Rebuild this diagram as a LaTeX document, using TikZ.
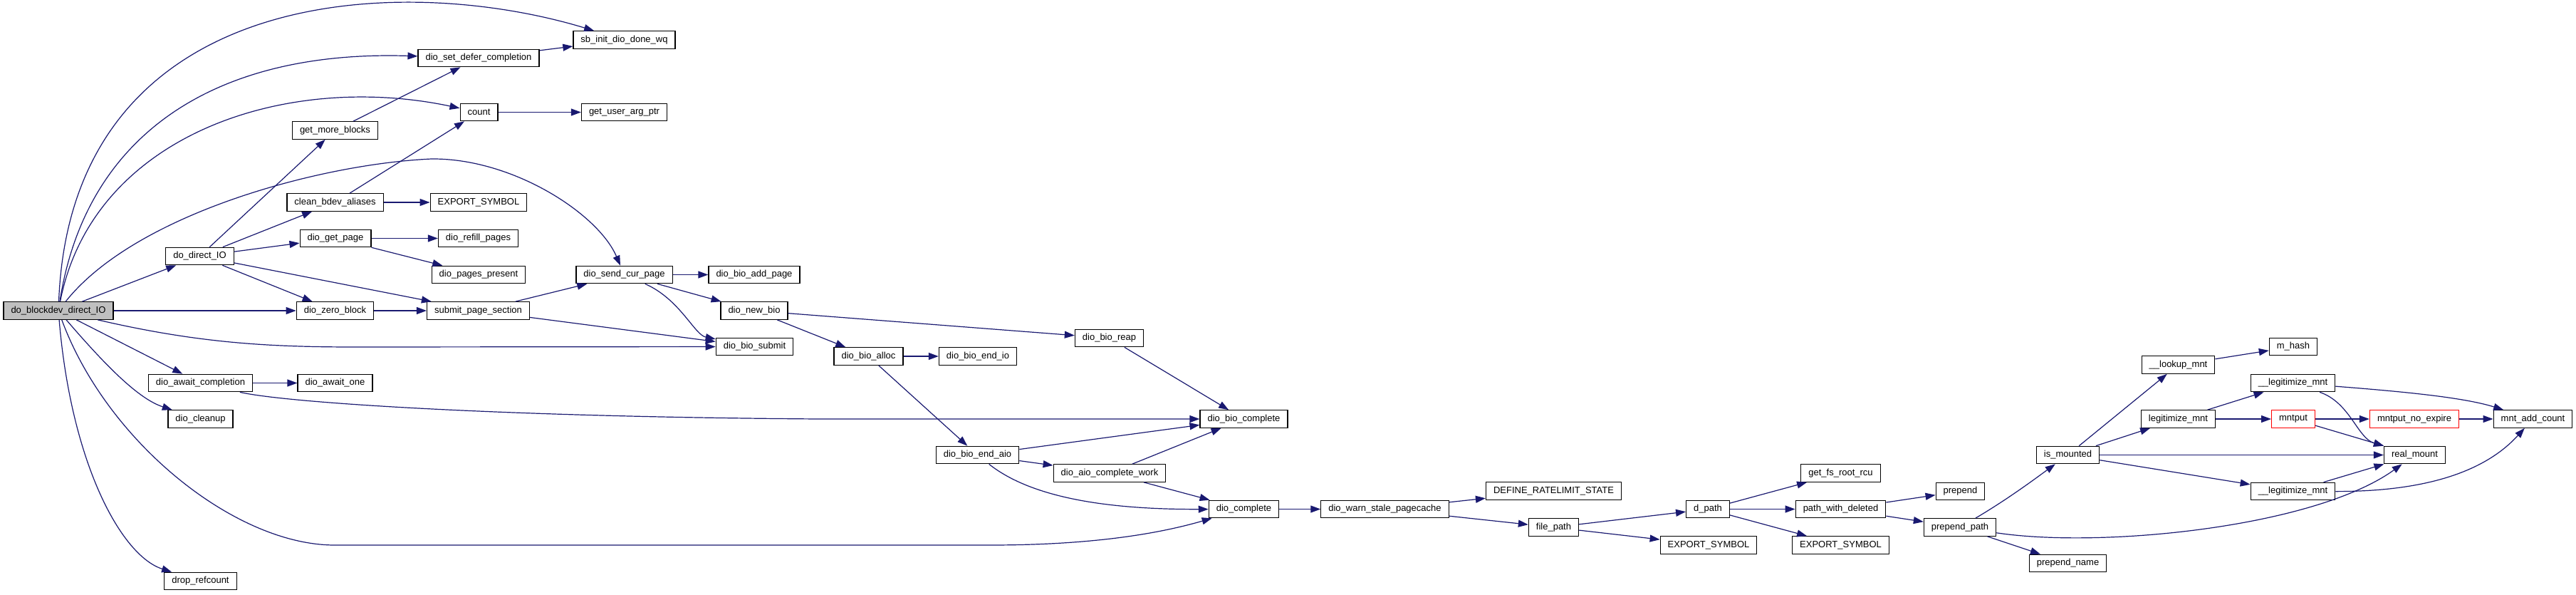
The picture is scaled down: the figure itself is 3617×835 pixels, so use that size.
\documentclass[tikz,border=0pt]{standalone}
\usepackage{fontspec}
\setmainfont{Liberation Sans}
\usepackage{xcolor}
\usetikzlibrary{arrows.meta}
\definecolor{edgeblue}{RGB}{25,25,112}
\definecolor{rootgray}{RGB}{191,191,191}

\begin{document}
\begin{tikzpicture}[
    x=1pt, y=-1pt,
    fn/.style={rectangle, draw=black, line width=1.2pt, fill=white, inner xsep=10.5pt, inner ysep=0pt, minimum height=24.5pt, font=\fontsize{13}{15}\selectfont},
    root/.style={fn, fill=rootgray},
    warn/.style={fn, draw=red},
    arrow/.style={-{Triangle[length=14pt,width=10pt]}, line width=1.2pt, draw=edgeblue}
]
\useasboundingbox (0,0) rectangle (3617,835);

\node[root] (blockdev) at (82,436) {do\_blockdev\_direct\_IO};
\node[fn] (directio) at (280.5,359.5) {do\_direct\_IO};
\node[fn] (awaitcompl) at (281.5,537.5) {dio\_await\_completion};
\node[fn] (cleanup) at (281.5,588) {dio\_cleanup};
\node[fn] (droprc) at (281.5,815.5) {drop\_refcount};
\node[fn] (moreblocks) at (470.5,183) {get\_more\_blocks};
\node[fn] (cleanbdev) at (470.5,284) {clean\_bdev\_aliases};
\node[fn] (getpage) at (471,334.5) {dio\_get\_page};
\node[fn] (zeroblock) at (470.5,436) {dio\_zero\_block};
\node[fn] (awaitone) at (470.5,537.5) {dio\_await\_one};
\node[fn] (deferc) at (672,81.5) {dio\_set\_defer\_completion};
\node[fn] (count) at (672.5,157.5) {count};
\node[fn] (exportA) at (672,284) {EXPORT\_SYMBOL};
\node[fn] (refill) at (671.5,334.5) {dio\_refill\_pages};
\node[fn] (present) at (672,385.5) {dio\_pages\_present};
\node[fn] (submitps) at (671.5,436) {submit\_page\_section};
\node[fn] (sbinit) at (876.5,56) {sb\_init\_dio\_done\_wq};
\node[fn] (userarg) at (876.5,157.5) {get\_user\_arg\_ptr};
\node[fn] (sendcur) at (876.5,385.5) {dio\_send\_cur\_page};
\node[fn] (addpage) at (1059,385.5) {dio\_bio\_add\_page};
\node[fn] (newbio) at (1059,436) {dio\_new\_bio};
\node[fn] (biosubmit) at (1059.5,486.5) {dio\_bio\_submit};
\node[fn] (bioalloc) at (1219.5,500) {dio\_bio\_alloc};
\node[fn] (bioendio) at (1373,500) {dio\_bio\_end\_io};
\node[fn] (bioreap) at (1557.5,474.5) {dio\_bio\_reap};
\node[fn] (bioendaio) at (1372.5,638.5) {dio\_bio\_end\_aio};
\node[fn] (aiowork) at (1558,664) {dio\_aio\_complete\_work};
\node[fn] (biocompl) at (1746.5,588) {dio\_bio\_complete};
\node[fn] (complete) at (1746.5,714.5) {dio\_complete};
\node[fn] (warnstale) at (1944.5,714.5) {dio\_warn\_stale\_pagecache};
\node[fn] (ratelimit) at (2181.5,689) {DEFINE\_RATELIMIT\_STATE};
\node[fn] (filepath) at (2181.5,740) {file\_path};
\node[fn] (dpath) at (2398,714.5) {d\_path};
\node[fn] (exportB) at (2399,765) {EXPORT\_SYMBOL};
\node[fn] (fsroot) at (2584.5,664) {get\_fs\_root\_rcu};
\node[fn] (withdel) at (2584.5,714.5) {path\_with\_deleted};
\node[fn] (exportC) at (2584.5,765) {EXPORT\_SYMBOL};
\node[fn] (prepend) at (2752.5,689.5) {prepend};
\node[fn] (prepath) at (2752,740) {prepend\_path};
\node[fn] (prename) at (2903.5,790.5) {prepend\_name};
\node[fn] (ismounted) at (2903.5,638.5) {is\_mounted};
\node[fn] (lookup) at (3058.5,512) {\_\_lookup\_mnt};
\node[fn] (legit) at (3058.5,588) {legitimize\_mnt};
\node[fn] (mhash) at (3220,486.5) {m\_hash};
\node[fn] (legitA) at (3219.5,537.5) {\_\_legitimize\_mnt};
\node[warn] (mntput) at (3220,588) {mntput};
\node[fn] (legitB) at (3219.5,689.5) {\_\_legitimize\_mnt};
\node[fn] (realmount) at (3390.5,638.5) {real\_mount};
\node[warn] (noexpire) at (3390,588) {mntput\_no\_expire};
\node[fn] (addcount) at (3556.5,588) {mnt\_add\_count};

\draw[arrow] (blockdev) .. controls (100,-20) and (560,-40) .. (sbinit);
\draw[arrow] (blockdev) .. controls (120,190) and (300,70) .. (deferc);
\draw[arrow] (blockdev) .. controls (130,190) and (400,100) .. (count);
\draw[arrow] (blockdev) .. controls (190,300) and (450,230) .. (606,223) .. controls (720,222) and (840,300) .. (sendcur);
\draw[arrow] (blockdev) -- (directio);
\draw[arrow] (blockdev) -- (zeroblock);
\draw[arrow] (blockdev) .. controls (280,482) and (380,487) .. (500,487) -- (biosubmit);
\draw[arrow] (blockdev) -- (awaitcompl);
\draw[arrow] (blockdev) .. controls (150,515) and (195,560) .. (cleanup);
\draw[arrow] (blockdev) .. controls (150,620) and (330,765) .. (470,765) -- (1390,765) .. controls (1550,765) and (1640,745) .. (complete);
\draw[arrow] (blockdev) .. controls (100,650) and (170,780) .. (droprc);

\draw[arrow] (directio) -- (moreblocks);
\draw[arrow] (directio) -- (cleanbdev);
\draw[arrow] (directio) -- (getpage);
\draw[arrow] (directio) -- (zeroblock);
\draw[arrow] (directio) -- (submitps);
\draw[arrow] (moreblocks) -- (deferc);
\draw[arrow] (deferc) -- (sbinit);
\draw[arrow] (cleanbdev) -- (count);
\draw[arrow] (cleanbdev) -- (exportA);
\draw[arrow] (count) -- (userarg);
\draw[arrow] (getpage) -- (refill);
\draw[arrow] (getpage) -- (present);
\draw[arrow] (zeroblock) -- (submitps);
\draw[arrow] (submitps) -- (sendcur);
\draw[arrow] (submitps) -- (biosubmit);
\draw[arrow] (awaitcompl) -- (awaitone);
\draw[arrow] (awaitcompl) .. controls (400,565) and (700,585) .. (1150,588) -- (biocompl);

\draw[arrow] (sendcur) -- (addpage);
\draw[arrow] (sendcur) -- (newbio);
\draw[arrow] (sendcur) .. controls (955,420) and (975,470) .. (biosubmit);
\draw[arrow] (newbio) -- (bioreap);
\draw[arrow] (newbio) -- (bioalloc);
\draw[arrow] (bioalloc) -- (bioendio);
\draw[arrow] (bioalloc) -- (bioendaio);
\draw[arrow] (bioreap) -- (biocompl);
\draw[arrow] (bioendaio) -- (biocompl);
\draw[arrow] (bioendaio) -- (aiowork);
\draw[arrow] (bioendaio) .. controls (1450,700) and (1560,715) .. (complete);
\draw[arrow] (aiowork) -- (biocompl);
\draw[arrow] (aiowork) -- (complete);

\draw[arrow] (complete) -- (warnstale);
\draw[arrow] (warnstale) -- (ratelimit);
\draw[arrow] (warnstale) -- (filepath);
\draw[arrow] (filepath) -- (dpath);
\draw[arrow] (filepath) -- (exportB);
\draw[arrow] (dpath) -- (fsroot);
\draw[arrow] (dpath) -- (withdel);
\draw[arrow] (dpath) -- (exportC);
\draw[arrow] (withdel) -- (prepend);
\draw[arrow] (withdel) -- (prepath);
\draw[arrow] (prepath) -- (prename);
\draw[arrow] (prepath) .. controls (2820,700) and (2860,670) .. (ismounted);
\draw[arrow] (prepath) .. controls (2950,770) and (3250,740) .. (realmount);

\draw[arrow] (ismounted) -- (lookup);
\draw[arrow] (ismounted) -- (legit);
\draw[arrow] (ismounted) -- (realmount);
\draw[arrow] (ismounted) -- (legitB);
\draw[arrow] (lookup) -- (mhash);
\draw[arrow] (legit) -- (legitA);
\draw[arrow] (legit) -- (mntput);
\draw[arrow] (mntput) -- (noexpire);
\draw[arrow] (mntput) -- (realmount);
\draw[arrow] (noexpire) -- (addcount);
\draw[arrow] (legitA) .. controls (3300,565) and (3310,615) .. (realmount);
\draw[arrow] (legitA) .. controls (3380,550) and (3460,558) .. (addcount);
\draw[arrow] (legitB) -- (realmount);
\draw[arrow] (legitB) .. controls (3430,690) and (3500,650) .. (addcount);
\end{tikzpicture}
\end{document}
